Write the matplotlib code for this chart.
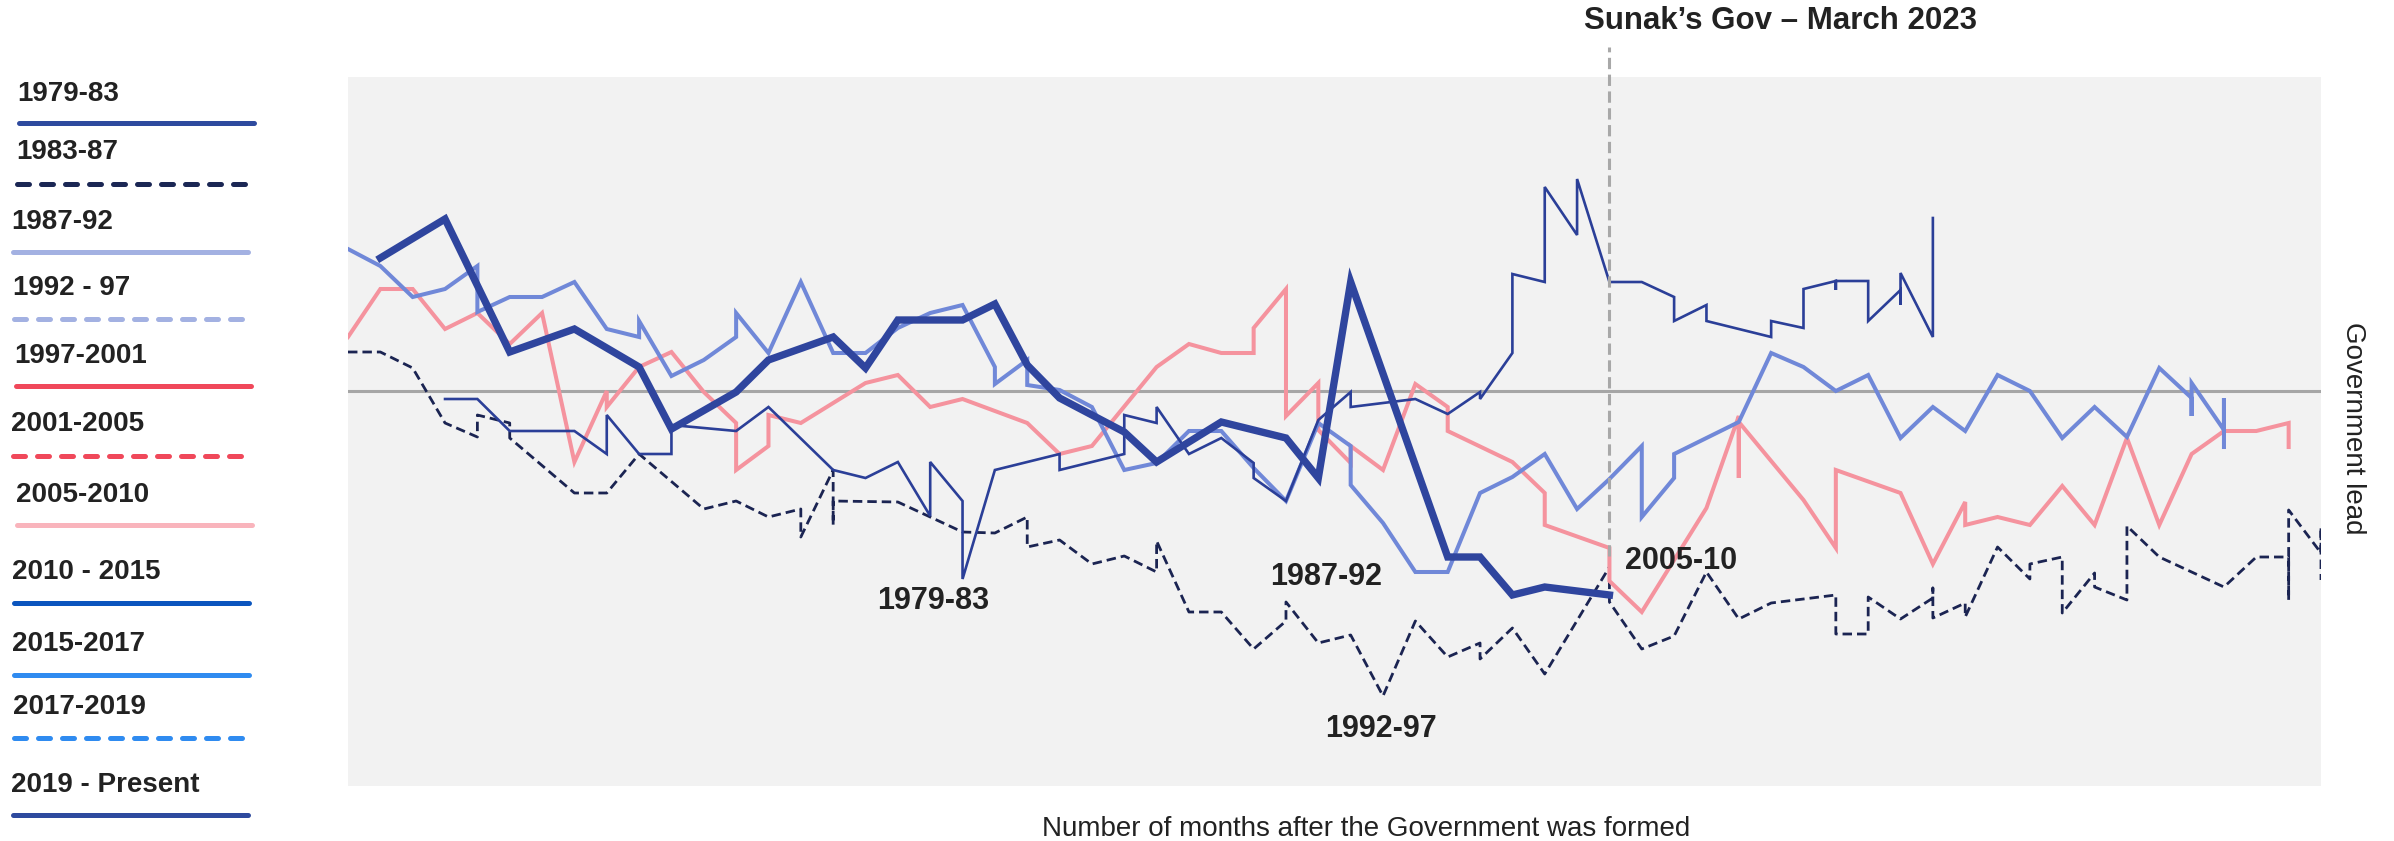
import matplotlib
matplotlib.use("Agg")
import matplotlib.pyplot as plt
from matplotlib.lines import Line2D

plt.rcParams['font.family'] = ['Liberation Sans', 'DejaVu Sans']

# --- data: months after government formed, government lead ---
m_2019 = [1, 3, 5, 7, 9, 10, 12, 13, 15, 16, 17, 18, 19, 20, 21, 22, 23, 24, 25, 26, 27, 29, 30,
          31, 34, 35, 36, 37, 39]
v_2019 = [13.3, 17.2, 3.9, 6.2, 2.4, -3.8, -0.1, 3.1, 5.4, 2.3, 7.1, 7.1, 7.1, 8.7, 2.6, -0.7, -2.4,
          -4.1, -7.1, -5.1, -3.1, -4.7, -8.7, 10.9, -16.6, -16.6, -20.4, -19.6, -20.4]

m_1979 = [3, 4, 5, 7, 8, 8, 9, 10, 10, 12, 13, 15, 16, 17, 18, 18, 19, 19, 20, 22, 22, 24, 24, 25, 25,
          26, 27, 28, 28, 29, 30, 31, 31, 33, 34, 35, 35, 36, 36, 37, 37, 38, 38, 39, 40, 41, 41, 42,
          42, 44, 44, 45, 45, 46, 46, 46, 47, 47, 48, 48, 48, 49, 49]
v_1979 = [-0.8, -0.8, -4.0, -4.0, -6.3, -2.4, -6.3, -6.3, -3.4, -4.0, -1.6, -7.9, -8.7, -7.1, -12.5,
          -7.1, -11.0, -18.8, -7.9, -6.3, -7.9, -6.3, -2.4, -3.2, -1.6, -6.3, -4.7, -7.2, -8.7, -11.0,
          -2.9, -0.1, -1.6, -0.8, -2.3, -0.1, -0.8, 3.8, 11.7, 10.9, 20.4, 15.6, 21.2, 10.9, 10.9, 9.4,
          7.0, 8.6, 7.0, 5.4, 7.0, 6.3, 10.2, 11.0, 10.1, 11.0, 11.0, 7.0, 10.1, 8.6, 11.8, 5.4, 17.3]

m_1987 = [0, 1, 2, 3, 4, 4, 5, 6, 7, 8, 9, 9, 10, 11, 12, 12, 13, 14, 15, 16, 17, 18, 19, 20, 20, 21,
          21, 22, 23, 24, 25, 26, 27, 28, 29, 30, 31, 31, 32, 33, 34, 35, 36, 37, 38, 39, 40, 40, 41,
          41, 43, 44, 45, 46, 47, 48, 49, 50, 51, 52, 53, 54, 55, 56, 57, 57, 57, 58, 58, 58]
v_1987 = [14.2, 12.5, 9.4, 10.2, 12.5, 7.9, 9.4, 9.4, 10.9, 6.2, 5.4, 7.0, 1.5, 3.1, 5.4, 7.8, 3.8,
          10.9, 3.8, 3.8, 6.3, 7.8, 8.6, 2.4, 0.7, 3.1, 0.6, 0.1, -1.6, -7.9, -7.2, -4.0, -4.0, -7.7,
          -11.0, -3.2, -5.5, -9.4, -13.2, -18.1, -18.1, -10.2, -8.6, -6.3, -11.8, -8.8, -5.5, -12.6,
          -8.7, -6.3, -3.1, 3.8, 2.4, 0.0, 1.6, -4.7, -1.6, -4.0, 1.6, 0.0, -4.7, -1.6, -4.6, 2.3,
          -0.7, -2.5, 0.8, -3.9, -0.7, -5.6]

m_2005 = [0, 1, 2, 3, 4, 5, 6, 7, 8, 8, 9, 10, 11, 12, 12, 13, 13, 14, 15, 16, 17, 18, 19, 21, 22, 23,
          25, 26, 27, 28, 28, 29, 29, 30, 30, 31, 31, 32, 33, 34, 34, 36, 37, 37, 39, 39, 40, 42, 43,
          43, 43, 45, 46, 46, 48, 49, 50, 50, 51, 52, 53, 54, 55, 56, 57, 58, 59, 60, 60]
v_2005 = [5.4, 10.2, 10.2, 6.2, 7.8, 4.7, 7.8, -7.1, 0.0, -1.6, 2.4, 3.9, -0.1, -3.2, -7.9, -5.5,
          -2.4, -3.2, -1.2, 0.8, 1.6, -1.6, -0.8, -3.2, -6.3, -5.5, 2.4, 4.7, 3.8, 3.8, 6.3, 10.2,
          -2.5, 0.8, -3.9, -7.2, -5.5, -7.9, 0.7, -1.6, -4.0, -7.1, -10.2, -13.4, -15.7, -19.0,
          -22.1, -11.7, -2.5, -8.7, -3.1, -10.9, -15.7, -7.9, -10.2, -17.3, -11.1, -13.4, -12.6,
          -13.4, -9.5, -13.4, -4.7, -13.4, -6.3, -4.0, -4.0, -3.2, -5.6]

m_1992 = [0, 1, 2, 3, 4, 4, 5, 5, 7, 8, 9, 11, 12, 13, 14, 14, 15, 15, 15, 17, 19, 20, 21, 21, 22,
          23, 24, 25, 25, 26, 27, 28, 29, 29, 30, 31, 32, 33, 34, 35, 35, 36, 37, 39, 39, 40, 41, 42,
          43, 44, 45, 46, 46, 47, 47, 48, 49, 49, 49, 50, 50, 51, 52, 52, 53, 53, 54, 54, 55, 55, 56,
          58, 59, 60, 60, 60, 61, 61, 61]
v_1992 = [3.9, 3.9, 2.3, -3.2, -4.6, -2.4, -3.2, -4.7, -10.2, -10.2, -6.3, -11.8, -11.0, -12.6,
          -11.8, -14.6, -7.9, -13.4, -11.0, -11.1, -14.1, -14.2, -12.6, -15.6, -14.9, -17.3, -16.5,
          -18.1, -15.0, -22.1, -22.1, -25.8, -23.0, -21.1, -25.2, -24.4, -30.5, -23.0, -26.6, -25.2,
          -26.8, -23.7, -28.3, -17.6, -21.1, -25.8, -24.5, -18.1, -22.8, -21.2, -20.8, -20.4, -24.3,
          -24.3, -20.6, -22.8, -20.7, -19.7, -22.7, -21.2, -22.6, -15.6, -18.8, -17.3, -16.6, -22.2,
          -18.2, -19.6, -20.9, -13.5, -16.6, -19.6, -16.6, -16.6, -20.9, -11.9, -16.2, -13.6, -18.9]

sunak_month = 39
chart_labels = ["1979-83", "1987-92", "1992-97", "2005-10"]
chart_label_pos = [(18.1, -21.0), (30.25, -18.6), (31.95, -33.8), (41.2, -17.0)]

legend_names = ["1979-83", "1983-87", "1987-92", "1992 - 97", "1997-2001", "2001-2005",
                "2005-2010", "2010 - 2015", "2015-2017", "2017-2019", "2019 - Present"]
legend_colors = ["#2E4A9E", "#1B2754", "#A3B1E2", "#A3B1E2", "#F0485A", "#F0485A",
                 "#F9B4BC", "#0B55BE", "#2F8BF0", "#2F8BF0", "#2E4A9E"]
legend_dashed = [False, True, False, True, False, True, False, False, False, True, False]

# --- figure ---
W, H = 2394, 841
fig = plt.figure(figsize=(W / 100, H / 100), dpi=100)
ax = fig.add_axes([348 / W, 1 - 786 / H, (2321 - 348) / W, (786 - 77) / H])
ax.set_facecolor("#F2F2F2")
for s in ax.spines.values():
    s.set_visible(False)
ax.set_xticks([])
ax.set_yticks([])
ax.set_xlim(0, 61)
ax.set_ylim(-39.5, 31.4)

ax.axhline(0, color="#A6A6A6", lw=2.2, zorder=1)

ax.plot(m_1992, v_1992, color="#1B2452", lw=2.0, dashes=(3.4, 1.8), zorder=2)
ax.plot(m_2005, v_2005, color="#F5939E", lw=2.9, zorder=3, solid_joinstyle="miter")
ax.plot(m_1987, v_1987, color="#7088D8", lw=2.9, zorder=4, solid_joinstyle="miter")
ax.plot(m_1979, v_1979, color="#2B3F98", lw=1.9, zorder=5, solid_joinstyle="miter")
ax.plot(m_2019, v_2019, color="#2F459E", lw=5.3, zorder=6, solid_joinstyle="miter")

ax.plot([sunak_month, sunak_month], [-16.5, 34.4], color="#A8A8A8", lw=2.2,
        dashes=(3.7, 1.8), clip_on=False, zorder=7)

for lab, (x, y) in zip(chart_labels, chart_label_pos):
    ax.text(x, y, lab, ha="center", va="center", fontsize=22, fontweight="bold",
            color="#222222", zorder=8)

fig.text(1780 / W, 1 - 21 / H, "Sunak\u2019s Gov \u2013 March 2023", ha="center", va="center",
         fontsize=22.5, fontweight="bold", color="#222222")
fig.text(1366 / W, 1 - 829 / H, "Number of months after the Government was formed",
         ha="center", va="center", fontsize=20, color="#222222")
fig.text(2353 / W, 1 - 428 / H, "Government lead", ha="center", va="center",
         rotation=270, fontsize=20, color="#222222")

# --- legend drawn at left ---
text_y = [94, 152, 222, 288, 356, 424, 495, 572, 644, 707, 785]
line_y = [123, 184, 252, 319, 386, 456, 525, 603, 675, 738, 815]
text_x = [17, 16, 11, 13, 14, 11, 16, 12, 12, 13, 11]
line_x = [(16, 256), (14, 247), (10, 250), (11, 244), (13, 253), (10, 243),
          (14, 254), (11, 251), (11, 251), (11, 244), (10, 250)]
for name, col, dsh, ty, ly, tx, (x0, x1) in zip(legend_names, legend_colors, legend_dashed,
                                                 text_y, line_y, text_x, line_x):
    fig.text(tx / W, 1 - ty / H, name, ha="left", va="center", fontsize=20,
             fontweight="bold", color="#222222")
    ln = Line2D([(x0 + 2.5) / W, (x1 - 2.5) / W], [1 - ly / H, 1 - ly / H],
                transform=fig.transFigure, color=col, lw=3.6,
                solid_capstyle="round", dash_capstyle="round")
    if dsh:
        ln.set_dashes((2.4, 2.4))
    fig.add_artist(ln)

fig.savefig("out.png", dpi=100)
